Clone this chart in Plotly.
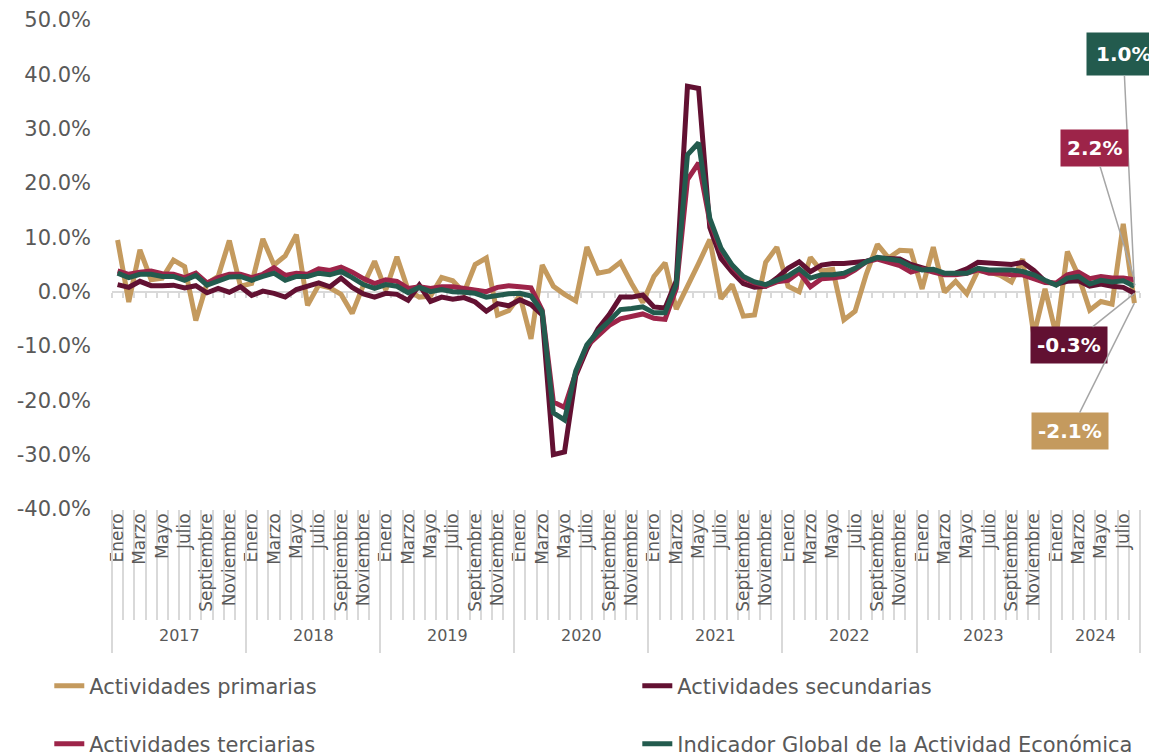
import plotly.graph_objects as go

# ---------------- data ----------------
years = ["2017", "2018", "2019", "2020", "2021", "2022", "2023", "2024"]
month_names = ["Enero", "Febrero", "Marzo", "Abril", "Mayo", "Junio", "Julio",
               "Agosto", "Septiembre", "Octubre", "Noviembre", "Diciembre"]
months_2024 = 8  # data until August 2024

primarias = [
    9.5, -1.9, 7.7, 2.2, 2.5, 5.8, 4.6, -5.3, 1.5, 2.8, 9.4, 1.0,
    1.5, 9.7, 4.9, 6.6, 10.5, -2.5, 1.2, 0.7, -0.5, -4.0, 1.2, 5.6,
    0.3, 6.4, 0.3, -1.0, -0.8, 2.6, 2.0, -0.2, 5.0, 6.2, -4.3, -3.5,
    -0.7, -8.7, 4.9, 1.0, -0.5, -1.7, 8.2, 3.4, 3.8, 5.4, 1.5, -2.0,
    2.8, 5.3, -3.2, 0.8, 5.2, 9.6, -1.3, 1.3, -4.5, -4.3, 5.4, 8.2,
    1.0, 0.0, 6.3, 3.8, 4.1, -5.2, -3.6, 3.2, 8.7, 6.2, 7.6, 7.5,
    0.5, 8.2, -0.1, 1.9, -0.4, 3.9, 3.6, 3.0, 1.8, 6.0, -8.0, 0.5,
    -8.0, 7.4, 2.9, -3.4, -1.8, -2.3, 12.5, -2.1,
]
secundarias = [
    1.3, 0.8, 1.9, 1.1, 1.1, 1.2, 0.7, 1.1, -0.2, 0.6, -0.1, 0.9,
    -0.7, 0.1, -0.3, -1.0, 0.4, 0.9, 1.6, 0.9, 2.5, 0.8, -0.4, -1.0,
    -0.3, -0.5, -1.6, 1.2, -1.8, -1.0, -1.4, -1.1, -1.9, -3.6, -2.2, -2.6,
    -1.5, -2.4, -4.3, -30.0, -29.5, -15.5, -10.6, -6.8, -4.2, -1.0, -1.0, -0.6,
    -2.8, -3.0, 2.0, 37.8, 37.4, 11.8, 6.1, 3.6, 1.5, 0.8, 1.0, 2.5,
    4.3, 5.5, 3.7, 4.9, 5.2, 5.2, 5.4, 5.6, 6.2, 6.1, 6.0, 5.0,
    4.4, 3.7, 3.2, 3.4, 4.2, 5.4, 5.2, 5.2, 5.0, 5.4, 3.9, 1.9,
    1.4, 1.9, 2.0, 1.0, 1.4, 1.0, 0.8, -0.3,
]
terciarias = [
    3.8, 3.2, 3.6, 3.8, 3.3, 3.2, 2.6, 3.4, 1.6, 2.6, 3.2, 3.2,
    2.6, 3.2, 4.4, 3.0, 3.4, 3.2, 4.2, 3.9, 4.5, 3.6, 2.4, 1.5,
    2.2, 1.9, 0.6, 0.9, 0.6, 0.9, 0.9, 0.6, 0.4, 0.0, 0.8, 1.1,
    0.9, 0.7, -3.4, -20.3, -21.3, -15.0, -10.0, -8.0, -6.2, -5.0, -4.6, -4.1,
    -4.9, -5.1, 0.6, 20.6, 23.7, 12.9, 7.7, 4.6, 2.5, 1.6, 1.0, 1.8,
    2.1, 3.6, 0.9, 2.4, 2.5, 2.8, 4.0, 5.5, 6.0, 5.4, 4.8, 3.6,
    4.2, 3.6, 3.1, 3.1, 3.4, 4.0, 3.4, 3.4, 3.1, 3.1, 2.5, 1.7,
    1.6, 3.1, 3.6, 2.4, 2.8, 2.5, 2.5, 2.2,
]
igae = [
    3.4, 2.6, 3.2, 3.2, 2.8, 2.8, 2.1, 3.0, 1.2, 2.0, 2.7, 2.8,
    2.1, 2.8, 3.4, 2.1, 2.8, 2.8, 3.4, 3.1, 3.7, 2.6, 1.3, 0.6,
    1.3, 1.0, -0.2, 0.8, 0.0, 0.4, 0.0, -0.1, -0.3, -1.0, -0.6, -0.4,
    -0.3, -0.8, -3.7, -22.3, -23.6, -14.6, -9.8, -7.3, -5.4, -3.3, -3.1, -2.8,
    -3.9, -3.9, 1.4, 25.2, 27.4, 13.5, 8.0, 4.9, 2.8, 1.8, 1.3, 2.0,
    2.9, 4.2, 2.5, 3.1, 3.1, 3.4, 4.3, 5.5, 6.3, 6.0, 5.7, 4.6,
    4.0, 4.1, 3.4, 3.4, 3.4, 4.3, 4.0, 4.0, 4.0, 3.7, 3.1, 2.1,
    1.2, 2.5, 2.8, 1.4, 2.1, 1.8, 2.0, 1.0,
]

series_names = ["Actividades primarias", "Actividades secundarias",
                "Actividades terciarias", "Indicador Global de la Actividad Económica"]
colors = ["#C49A5E", "#621132", "#9D2449", "#235B4E"]
y_ticks = list(range(-40, 51, 10))

# ---------------- derived axis helpers ----------------
periods = [(y, m) for y in years for m in month_names]
periods = periods[: 12 * (len(years) - 1) + months_2024]
n = len(periods)
idx = list(range(n))
label_idx = [i for i in idx if i % 2 == 0]
label_txt = [periods[i][1] for i in label_idx]
month_bounds = [i - 0.5 for i in range(n + 1)]
year_bounds = [i - 0.5 for i in range(0, n, 12)] + [n - 0.5]
year_centers = [(year_bounds[k] + year_bounds[k + 1]) / 2 for k in range(len(years))]
xr = [-0.5, n - 0.5]

TXT = "#595959"
GRID = "#D9D9D9"
FONT = "DejaVu Sans"

fig = go.Figure()
# empty helper traces so the overlay axes (labels / separators / zero line) are drawn
for ax_id in ["x2", "x3", "x4"]:
    fig.add_trace(go.Scatter(x=[None], y=[None], xaxis=ax_id, yaxis="y",
                             showlegend=False, hoverinfo="skip"))

all_series = [primarias, secundarias, terciarias, igae]
legends = ["legend", "legend2", "legend3", "legend4"]
for s, name, c, lg in zip(all_series, series_names, colors, legends):
    fig.add_trace(go.Scatter(x=idx, y=s, mode="lines", name=name,
                             line=dict(color=c, width=5), legend=lg))

# end-point labels
offsets = {  # (ax, ay, pad)
    3: (-11, -232, 9),
    2: (-40, -132, 6),
    1: (-65, 52, 6),
    0: (-64, 128, 6),
}
for k, (ax, ay, pad) in offsets.items():
    v = all_series[k][-1]
    fig.add_annotation(x=idx[-1], y=v, xref="x", yref="y",
                       text=f"<b>{v:.1f}%</b>", showarrow=True, arrowhead=0,
                       arrowwidth=1.5, arrowcolor="#A6A6A6", ax=ax, ay=ay,
                       bgcolor=colors[k], borderpad=pad,
                       font=dict(family=FONT, size=20, color="white"))

# year labels
for yc, yl in zip(year_centers, years):
    fig.add_annotation(x=yc, y=-0.2597, xref="x", yref="paper", text=yl,
                       showarrow=False, yanchor="middle",
                       font=dict(family=FONT, size=16, color=TXT))

common = dict(range=xr, showgrid=False, zeroline=False)
leg_common = dict(orientation="h", xanchor="left", yanchor="middle",
                  font=dict(size=21, color=TXT), bgcolor="rgba(0,0,0,0)")
fig.update_layout(
    # page body adds an 8px margin, so the figure is 8px smaller and shifted
    width=1149, height=748,
    margin=dict(l=104, r=17, t=12, b=247, autoexpand=False),
    plot_bgcolor="white", paper_bgcolor="white",
    font=dict(family=FONT, color=TXT),
    showlegend=True,
    xaxis=dict(**common, tickmode="array", tickvals=month_bounds, ticks="outside",
               ticklen=110, tickwidth=2, tickcolor=GRID, showticklabels=False,
               showline=False),
    xaxis2=dict(**common, overlaying="x", anchor="y", side="bottom",
                tickmode="array", tickvals=label_idx, ticktext=label_txt,
                tickangle=-90, ticks="", tickfont=dict(size=17, color=TXT)),
    xaxis3=dict(**common, overlaying="x", anchor="y", side="bottom",
                tickmode="array", tickvals=year_bounds, ticks="outside",
                ticklen=143, tickwidth=2, tickcolor=GRID, showticklabels=False),
    xaxis4=dict(**common, overlaying="x", anchor="free", position=40 / 90,
                side="bottom", tickmode="array", tickvals=month_bounds,
                ticks="outside", ticklen=5, tickwidth=2, tickcolor=GRID,
                showline=True, linecolor=GRID, linewidth=2,
                showticklabels=False, layer="below traces"),
    yaxis=dict(range=[-40, 50], tickmode="array", tickvals=y_ticks,
               ticktext=[f"{v:.1f}%" for v in y_ticks], showgrid=False,
               zeroline=False, showline=False, ticks="", ticklabelstandoff=20,
               tickfont=dict(size=21, color=TXT)),
    legend=dict(**leg_common, x=-0.061, y=-0.362),
    legend2=dict(**leg_common, x=0.511, y=-0.362),
    legend3=dict(**leg_common, x=-0.061, y=-0.481),
    legend4=dict(**leg_common, x=0.511, y=-0.481),
)

fig.write_html("out.html")
